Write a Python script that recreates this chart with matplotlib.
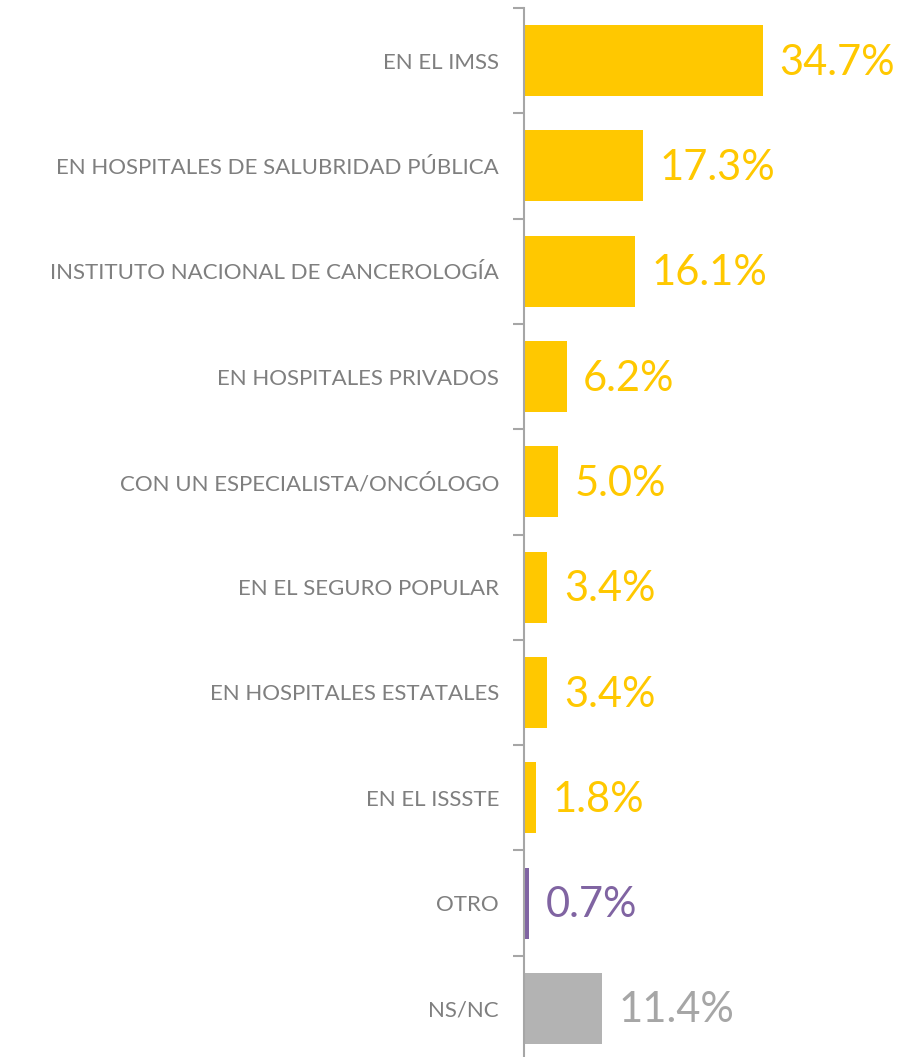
import matplotlib.pyplot as plt
import numpy as np

categories = [
    "EN EL IMSS",
    "EN HOSPITALES DE SALUBRIDAD PÚBLICA",
    "INSTITUTO NACIONAL DE CANCEROLOGÍA",
    "EN HOSPITALES PRIVADOS",
    "CON UN ESPECIALISTA/ONCÓLOGO",
    "EN EL SEGURO POPULAR",
    "EN HOSPITALES ESTATALES",
    "EN EL ISSSTE",
    "OTRO",
    "NS/NC",
]
values = [34.7, 17.3, 16.1, 6.2, 5.0, 3.4, 3.4, 1.8, 0.7, 11.4]
labels = ["34.7%", "17.3%", "16.1%", "6.2%", "5.0%", "3.4%", "3.4%", "1.8%", "0.7%", "11.4%"]

yellow = "#FFC800"
purple = "#8064A2"
grey = "#B3B3B3"
bar_colors = [yellow] * 8 + [purple, grey]
text_colors = [yellow] * 8 + [purple, "#A6A6A6"]

plt.rcParams['font.family'] = ['Lato', 'DejaVu Sans']

fig = plt.figure(figsize=(9.02, 10.57), dpi=100)
# axes: left edge at the vertical line, 105.3 px per category
ax = fig.add_axes([524 / 902, -4 / 1057, 1 - 524 / 902, 1053 / 1057])

y = np.arange(len(categories))
ax.barh(y, values, height=0.675, color=bar_colors)
ax.set_ylim(len(categories) - 0.5, -0.5)
ax.set_xlim(0, 54.9)

for yi, v, lab, c in zip(y, values, labels, text_colors):
    ax.text(v + 2.4, yi + 0.02, lab, color=c, fontsize=30, va='center', ha='left')

ax.set_yticks(np.arange(-0.5, len(categories), 1.0))
ax.set_yticklabels([])
ax.set_yticks(y, minor=True)
ax.set_yticklabels(categories, minor=True, fontsize=16, color="#7F7F7F")
ax.tick_params(axis='y', which='major', length=8, width=1.5, color="#A6A6A6")
ax.tick_params(axis='y', which='minor', length=0, pad=18)
ax.set_xticks([])

for s in ['top', 'right', 'bottom']:
    ax.spines[s].set_visible(False)
ax.spines['left'].set_color("#A6A6A6")
ax.spines['left'].set_linewidth(1.5)

fig.savefig("out.png", dpi=100)
